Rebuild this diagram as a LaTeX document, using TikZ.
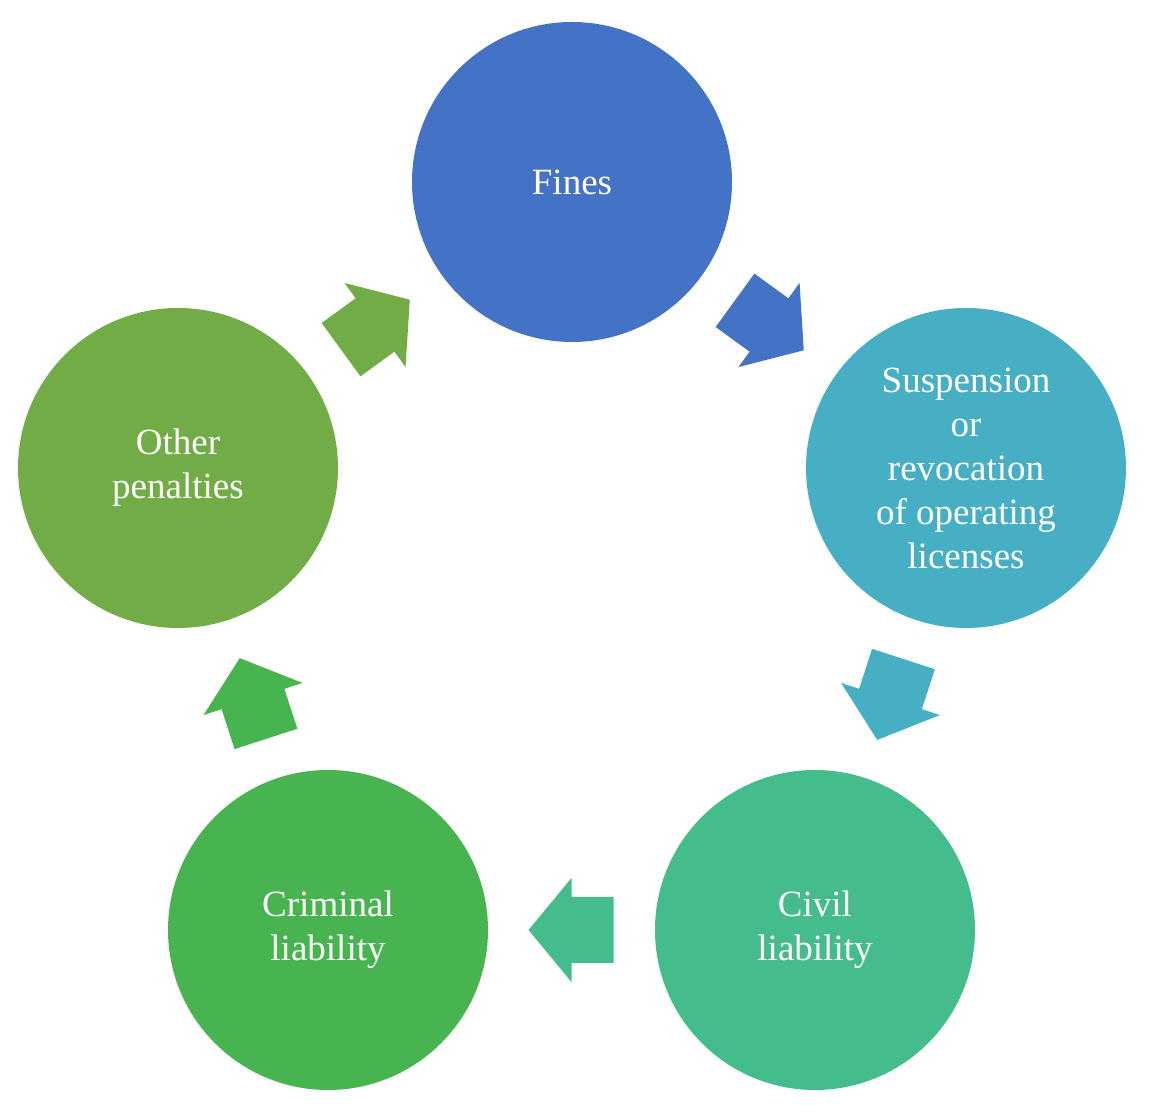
\documentclass[tikz,border=0pt]{standalone}
\usepackage{fontspec}
\setmainfont{Liberation Serif}
\usetikzlibrary{calc}
\definecolor{cF}{HTML}{4472C4}
\definecolor{cS}{HTML}{46AFC3}
\definecolor{cV}{HTML}{44BC8C}
\definecolor{cC}{HTML}{48B450}
\definecolor{cO}{HTML}{72AC46}
\tikzset{
  circ/.style={circle,minimum size=320pt,inner sep=0pt,text=white,align=center,
    font=\fontsize{37}{44}\selectfont,fill=#1},
}
\newcommand\cycarrow[4]{%
  \fill[#4,shift={($(#1)!0.5!(#2)$)},rotate=#3]
   (-42,-33)--(0,-33)--(0,-52)--(43,0)--(0,52)--(0,33)--(-42,33)--cycle;}
\begin{document}
\begin{tikzpicture}[x=1pt,y=1pt]
\useasboundingbox (0,0) rectangle (1152,1113);
\node[circ=cF] (f) at (572,931) {Fines};
\node[circ=cS] (s) at (966,645) {Suspension\\or\\revocation\\of operating\\licenses};
\node[circ=cV] (v) at (815,183) {Civil\\liability};
\node[circ=cC] (c) at (328,183) {Criminal\\liability};
\node[circ=cO] (o) at (178,645) {Other\\penalties};
\cycarrow{f}{s}{-36}{cF}
\cycarrow{s}{v}{-108}{cS}
\cycarrow{v}{c}{180}{cV}
\cycarrow{c}{o}{108}{cC}
\cycarrow{o}{f}{36}{cO}
\end{tikzpicture}
\end{document}
